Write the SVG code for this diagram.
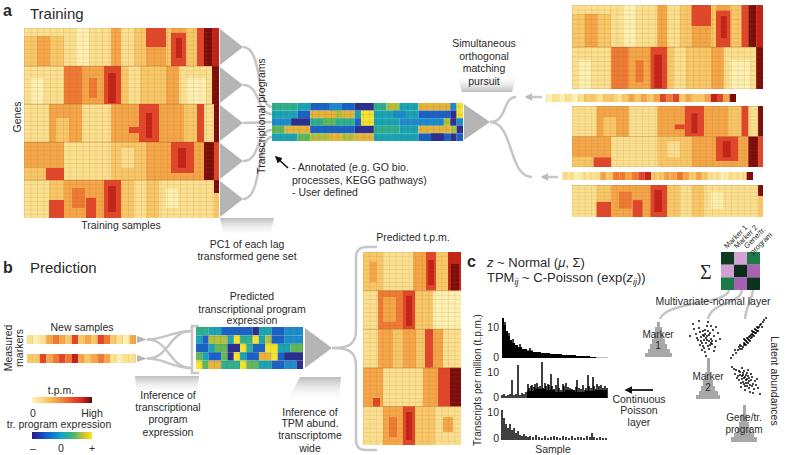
<svg xmlns="http://www.w3.org/2000/svg" width="788" height="455" viewBox="0 0 788 455">
<style>
text{font-family:"Liberation Sans",Arial,sans-serif;fill:#2a2a2a;font-size:10.5px}
.lbl{font-size:15px}
.pl{font-size:16px;font-weight:bold}
.m{text-anchor:middle}
.h0{fill:#fdf1b2}.h1{fill:#fbe090}.h2{fill:#f8c868}.h3{fill:#f4a648}.h4{fill:#ee7a34}.h5{fill:#e2462a}.h6{fill:#c42218}.h7{fill:#7c0c0c}
.p0{fill:#2b2f8e}.p1{fill:#1a62c8}.p2{fill:#1d8ccc}.p3{fill:#1aa4b4}.p4{fill:#2fb08e}.p5{fill:#62b858}.p6{fill:#b4c03a}.p7{fill:#e8b43a}.p8{fill:#f6e22a}
.tri{fill:#b5b5b5}
.con{fill:none;stroke:#c6c6c6;stroke-width:2.5}
.hist{fill:#a8a8a8}
.dots{fill:none;stroke:#000;stroke-width:1.9;stroke-linecap:round}
.bars{fill:none;stroke:#000;stroke-width:1.5}
.ml{font-size:7.5px}
</style>
<defs>
<pattern id="gA" width="6.5" height="4.2222" patternUnits="userSpaceOnUse"><path d="M0 .2H6.5M.2 0V4.2222" stroke="#9a6028" stroke-opacity=".35" stroke-width=".5"/></pattern>
<pattern id="gT" width="6.533" height="4.289" patternUnits="userSpaceOnUse"><path d="M0 .2H6.533M.2 0V4.289" stroke="#9a6028" stroke-opacity=".35" stroke-width=".5"/></pattern>
<pattern id="gP" width="6.3667" height="7.6" patternUnits="userSpaceOnUse"><path d="M0 .2H6.3667M.2 0V7.6" stroke="#404040" stroke-opacity=".3" stroke-width=".5"/></pattern>
<pattern id="gQ" width="6.294" height="8.4" patternUnits="userSpaceOnUse"><path d="M0 .2H6.294M.2 0V8.4" stroke="#404040" stroke-opacity=".3" stroke-width=".5"/></pattern>
<pattern id="gS" width="6.412" height="9" patternUnits="userSpaceOnUse"><path d="M.2 0V9" stroke="#9a6028" stroke-opacity=".35" stroke-width=".5"/></pattern>
<pattern id="gR" width="6.35" height="8" patternUnits="userSpaceOnUse"><path d="M.2 0V8" stroke="#9a6028" stroke-opacity=".35" stroke-width=".5"/></pattern>
<linearGradient id="fd" x1="0" y1="0" x2="0" y2="1"><stop offset="0" stop-color="#bdbdbd"/><stop offset="1" stop-color="#fff" stop-opacity="0"/></linearGradient>
<linearGradient id="fu" x1="0" y1="1" x2="0" y2="0"><stop offset="0" stop-color="#bdbdbd"/><stop offset="1" stop-color="#fff" stop-opacity="0"/></linearGradient>
<linearGradient id="gTPM" x1="0" x2="1"><stop offset="0" stop-color="#fef6bc"/><stop offset=".3" stop-color="#f8c050"/><stop offset=".6" stop-color="#ec6830"/><stop offset=".82" stop-color="#de2820"/><stop offset="1" stop-color="#640808"/></linearGradient>
<linearGradient id="gPR" x1="0" x2="1"><stop offset="0" stop-color="#2a1a8a"/><stop offset=".25" stop-color="#1060d0"/><stop offset=".5" stop-color="#12a8c4"/><stop offset=".7" stop-color="#48b870"/><stop offset=".85" stop-color="#c8c030"/><stop offset="1" stop-color="#f8e818"/></linearGradient>
<marker id="ak" viewBox="0 0 10 10" refX="8" refY="5" markerWidth="4.5" markerHeight="4.5" orient="auto"><path d="M0 0L10 5L0 10Z" fill="#111"/></marker>
<marker id="ag" viewBox="0 0 10 10" refX="8" refY="5" markerWidth="3" markerHeight="3" orient="auto"><path d="M0 0L10 5L0 10Z" fill="#bcbcbc"/></marker>
<clipPath id="c1"><rect x="0" y="0" width="195" height="76"/></clipPath>
<clipPath id="c2"><rect x="0" y="76" width="195" height="76"/></clipPath>
<clipPath id="c3"><rect x="0" y="152" width="195" height="38"/></clipPath>
<g id="hmA">
<rect class="h1" width="195" height="190"/>
<rect class="h2" x="0" y="0" width="40" height="38"/><rect class="h1" x="0" y="0" width="40" height="8"/><rect class="h3" x="13" y="8" width="13" height="30"/>
<rect class="h0" x="52" y="0" width="13" height="38"/><rect class="h3" x="87" y="0" width="10" height="38"/><rect class="h2" x="110" y="0" width="12" height="38"/>
<rect class="h5" x="122" y="0" width="20" height="19"/><rect class="h3" x="122" y="19" width="20" height="19"/><rect class="h2" x="142" y="0" width="5" height="38"/>
<rect class="h3" x="147" y="0" width="15" height="5"/><rect class="h5" x="147" y="5" width="15" height="33"/><rect class="h6" x="152" y="10" width="6" height="20"/>
<rect class="h2" x="162" y="0" width="11" height="38"/><rect class="h5" x="173" y="0" width="7" height="38"/><rect class="h7" x="180" y="0" width="8" height="38"/><rect class="h6" x="188" y="0" width="7" height="38"/>
<rect class="h0" x="6.5" y="50" width="13" height="26"/><rect class="h4" x="40" y="38" width="18" height="38"/><rect class="h3" x="58" y="38" width="22" height="38"/><rect class="h4" x="65" y="50" width="8" height="20"/>
<rect class="h5" x="80" y="38" width="17" height="38"/><rect class="h6" x="84" y="45" width="8" height="30"/><rect class="h2" x="97" y="38" width="25" height="38"/><rect class="h1" x="104" y="38" width="12" height="38"/>
<rect class="h2" x="122" y="38" width="20" height="38"/><rect class="h3" x="142" y="38" width="13" height="38"/><rect class="h0" x="162" y="50" width="20" height="26"/><rect class="h7" x="188" y="38" width="7" height="38"/>
<rect class="h3" x="25" y="76" width="33" height="38"/><rect class="h2" x="32" y="90" width="13" height="24"/><rect class="h3" x="87" y="76" width="28" height="38"/><rect class="h5" x="105" y="99" width="10" height="6"/>
<rect class="h5" x="115" y="76" width="20" height="38"/><rect class="h6" x="122" y="85" width="6" height="25"/><rect class="h3" x="135" y="76" width="25" height="38"/><rect class="h2" x="160" y="76" width="13" height="38"/>
<rect class="h5" x="173" y="76" width="7" height="38"/><rect class="h7" x="190" y="76" width="5" height="38"/>
<rect class="h3" x="0" y="114" width="40" height="26"/><rect class="h2" x="0" y="140" width="22" height="12"/><rect class="h5" x="22" y="140" width="18" height="12"/>
<rect class="h2" x="87" y="114" width="35" height="38"/><rect class="h1" x="97" y="120" width="13" height="20"/><rect class="h3" x="122" y="114" width="25" height="38"/>
<rect class="h5" x="147" y="114" width="23" height="31"/><rect class="h3" x="147" y="145" width="23" height="7"/><rect class="h6" x="154" y="120" width="8" height="20"/>
<rect class="h3" x="170" y="114" width="10" height="38"/><rect class="h7" x="180" y="114" width="10" height="38"/><rect class="h5" x="190" y="114" width="5" height="38"/>
<rect class="h2" x="25" y="152" width="15" height="20"/><rect class="h5" x="25" y="172" width="15" height="18"/><rect class="h3" x="40" y="152" width="40" height="38"/>
<rect class="h4" x="48" y="160" width="13" height="20"/><rect class="h5" x="62" y="170" width="10" height="20"/><rect class="h5" x="80" y="152" width="17" height="38"/><rect class="h6" x="84" y="158" width="8" height="26"/>
<rect class="h2" x="97" y="152" width="38" height="38"/><rect class="h1" x="110" y="152" width="12" height="38"/><rect class="h0" x="142" y="160" width="12" height="20"/>
<rect class="h7" x="190" y="152" width="5" height="13"/><rect class="h2" x="190" y="165" width="5" height="25"/>
<rect width="195" height="190" fill="url(#gA)"/>
<path d="M0 38H195M0 76H195M0 114H195M0 152H195" stroke="#8a5020" stroke-opacity=".45" stroke-width=".6"/>
</g>
</defs>

<rect width="788" height="455" fill="#fff"/>

<!-- soft funnel shapes -->
<g id="funnels">
<path d="M220 218H274L270 237H224Z" fill="url(#fd)"/>
<path d="M457 75H517L512 92H462Z" fill="url(#fu)"/>
<path d="M135 376H199L197 394H137Z" fill="url(#fd)"/>
<path d="M300 377H341L339 402H287Z" fill="url(#fd)"/>
</g>

<!-- connectors -->
<g id="connectors">
<path class="con" d="M243 47C263 47 256 107 272 107"/>
<path class="con" d="M243 85C261 85 256 114 272 114"/>
<path class="con" d="M243 123C256 123 260 122 272 122"/>
<path class="con" d="M243 161C261 161 256 130 272 130"/>
<path class="con" d="M243 199C263 199 256 137 272 137"/>
<path class="con" d="M490 122C508 122 502 97 516 97"/>
<path class="con" d="M490 122C514 122 508 177 532 177"/>
<path class="con" d="M542 97H526" marker-end="url(#ag)" stroke="#bcbcbc"/>
<path class="con" d="M558 177H542" marker-end="url(#ag)" stroke="#bcbcbc"/>
<path d="M288 168L276 157" stroke="#111" stroke-width="1.6" marker-end="url(#ak)"/>
<path class="con" d="M147 339.5C165 339.5 172 331 192 331"/>
<path class="con" d="M147 339.5C170 339.5 168 368 192 368"/>
<path class="con" d="M147 358.5C170 358.5 168 331 192 331"/>
<path class="con" d="M147 358.5C165 358.5 172 368 192 368"/>
<path class="con" d="M199 326H192V373H199"/>
<path class="con" d="M332 348C348 348 356 345 356 330V258Q356 247 366 247H377"/>
<path class="con" d="M332 348C348 348 356 351 356 366V440Q356 450 366 450H377"/>
<path class="con" d="M729 290C727 305 666 301 660 319" stroke-width="3"/>
<path class="con" d="M742 290C740 305 712 301 708 319" stroke-width="3"/>
<path class="con" d="M753 290C752 300 746 306 745 319" stroke-width="3"/>
<path d="M653 390H626" stroke="#111" stroke-width="1.8" marker-end="url(#ak)"/>
</g>

<!-- panel a -->
<g id="panel-a-title"><text class="pl" x="3" y="16">a</text><text class="lbl" x="30" y="19">Training</text></g>
<g id="training-heatmap">
<use href="#hmA" transform="translate(24,28)"/>
<text class="m" transform="translate(21,117) rotate(-90)">Genes</text>
<text class="m" x="121" y="229">Training samples</text>
</g>
<g id="lag-triangles">
<path class="tri" d="M220 29L243 47L220 65ZM220 67L243 85L220 103ZM220 105L243 123L220 141ZM220 143L243 161L220 179ZM220 181L243 199L220 217Z"/>
<text class="m" x="247" y="248">PC1 of each lag</text>
<text class="m" x="247" y="260">transformed gene set</text>
</g>
<g id="transcriptional-programs">
<text class="m" transform="translate(265,116) rotate(-90)">Transcriptional programs</text>
<g transform="translate(272,103) scale(6.3667,7.6)">
<rect class="p4" x="0" y="0" width="4" height="1"/><rect class="p3" x="4" y="0" width="2" height="1"/><rect class="p1" x="6" y="0" width="7" height="1"/><rect class="p2" x="9" y="0" width="2" height="1"/><rect class="p0" x="13" y="0" width="3" height="1"/><rect class="p4" x="16" y="0" width="2" height="1"/><rect class="p6" x="18" y="0" width="2" height="1"/><rect class="p3" x="20" y="0" width="3" height="1"/><rect class="p7" x="23" y="0" width="5" height="1"/><rect class="p2" x="28" y="0" width="1" height="1"/><rect class="p8" x="29" y="0" width="1" height="1"/>
<rect class="p3" x="0" y="1" width="4" height="1"/><rect class="p1" x="4" y="1" width="2" height="1"/><rect class="p7" x="6" y="1" width="7" height="1"/><rect class="p6" x="10" y="1" width="1" height="1"/><rect class="p3" x="13" y="1" width="1" height="1"/><rect class="p8" x="14" y="1" width="2" height="1"/><rect class="p3" x="16" y="1" width="7" height="1"/><rect class="p2" x="19" y="1" width="2" height="1"/><rect class="p1" x="23" y="1" width="5" height="1"/><rect class="p0" x="28" y="1" width="1" height="1"/><rect class="p8" x="29" y="1" width="1" height="1"/>
<rect class="p2" x="0" y="2" width="3" height="1"/><rect class="p0" x="3" y="2" width="3" height="1"/><rect class="p4" x="6" y="2" width="7" height="1"/><rect class="p5" x="8" y="2" width="2" height="1"/><rect class="p1" x="13" y="2" width="1" height="1"/><rect class="p8" x="14" y="2" width="2" height="1"/><rect class="p3" x="16" y="2" width="4" height="1"/><rect class="p2" x="20" y="2" width="7" height="1"/><rect class="p6" x="27" y="2" width="1" height="1"/><rect class="p0" x="28" y="2" width="1" height="1"/><rect class="p2" x="29" y="2" width="1" height="1"/>
<rect class="p5" x="0" y="3" width="2" height="1"/><rect class="p7" x="2" y="3" width="4" height="1"/><rect class="p1" x="6" y="3" width="7" height="1"/><rect class="p0" x="13" y="3" width="3" height="1"/><rect class="p4" x="16" y="3" width="4" height="1"/><rect class="p3" x="20" y="3" width="3" height="1"/><rect class="p7" x="23" y="3" width="5" height="1"/><rect class="p6" x="28" y="3" width="1" height="1"/><rect class="p0" x="29" y="3" width="1" height="1"/>
<rect class="p3" x="0" y="4" width="4" height="1"/><rect class="p5" x="4" y="4" width="2" height="1"/><rect class="p6" x="6" y="4" width="7" height="1"/><rect class="p7" x="9" y="4" width="2" height="1"/><rect class="p7" x="13" y="4" width="3" height="1"/><rect class="p3" x="16" y="4" width="7" height="1"/><rect class="p1" x="23" y="4" width="5" height="1"/><rect class="p0" x="25" y="4" width="2" height="1"/><rect class="p0" x="28" y="4" width="1" height="1"/><rect class="p1" x="29" y="4" width="1" height="1"/>
</g>
<rect x="272" y="103" width="191" height="38" fill="url(#gP)"/>
<path class="tri" d="M464 104L490 122L464 140Z"/>
</g>
<g id="annotation">
<text x="292" y="171">- Annotated (e.g. GO bio.</text>
<text x="292" y="184">processes, KEGG pathways)</text>
<text x="292" y="196">- User defined</text>
</g>
<g id="omp-label">
<text class="m" x="484" y="47">Simultaneous</text>
<text class="m" x="484" y="60">orthogonal</text>
<text class="m" x="484" y="72">matching</text>
<text class="m" x="484" y="85">pursuit</text>
</g>
<g id="reconstructed-heatmap">
<g transform="translate(572,5) scale(.9795,1.105)"><use href="#hmA" clip-path="url(#c1)"/></g>
<g transform="translate(572,106) scale(.9795,.8026) translate(0,-76)"><use href="#hmA" clip-path="url(#c2)"/></g>
<g transform="translate(572,185) scale(.9795,.842) translate(0,-152)"><use href="#hmA" clip-path="url(#c3)"/></g>
<g transform="translate(546,94) scale(6.3333,8)">
<rect class="h0" x="0" width="1" height="1"/><rect class="h1" x="1" width="1" height="1"/><rect class="h0" x="2" width="1" height="1"/><rect class="h1" x="3" width="1" height="1"/><rect class="h0" x="4" width="1" height="1"/><rect class="h1" x="5" width="1" height="1"/>
<rect class="h2" x="6" width="1" height="1"/><rect class="h2" x="7" width="1" height="1"/><rect class="h1" x="8" width="1" height="1"/><rect class="h2" x="9" width="1" height="1"/><rect class="h2" x="10" width="1" height="1"/><rect class="h1" x="11" width="1" height="1"/><rect class="h2" x="12" width="1" height="1"/>
<rect class="h3" x="13" width="1" height="1"/><rect class="h2" x="14" width="1" height="1"/><rect class="h3" x="15" width="1" height="1"/><rect class="h2" x="16" width="1" height="1"/><rect class="h3" x="17" width="1" height="1"/>
<rect class="h5" x="18" width="1" height="1"/><rect class="h4" x="19" width="1" height="1"/><rect class="h5" x="20" width="1" height="1"/>
<rect class="h2" x="21" width="1" height="1"/><rect class="h3" x="22" width="1" height="1"/><rect class="h2" x="23" width="1" height="1"/><rect class="h2" x="24" width="1" height="1"/><rect class="h3" x="25" width="1" height="1"/>
<rect class="h6" x="26" width="1" height="1"/><rect class="h5" x="27" width="1" height="1"/><rect class="h3" x="28" width="1" height="1"/><rect class="h7" x="29" width="1" height="1"/>
</g>
<rect x="546" y="94" width="190" height="8" fill="url(#gR)"/>
<g transform="translate(562,172) scale(6.3667,8)">
<rect class="h1" x="0" width="1" height="1"/><rect class="h1" x="1" width="1" height="1"/><rect class="h0" x="2" width="1" height="1"/><rect class="h1" x="3" width="1" height="1"/><rect class="h1" x="4" width="1" height="1"/><rect class="h1" x="5" width="1" height="1"/>
<rect class="h3" x="6" width="1" height="1"/><rect class="h2" x="7" width="1" height="1"/><rect class="h4" x="8" width="1" height="1"/><rect class="h4" x="9" width="1" height="1"/><rect class="h3" x="10" width="1" height="1"/>
<rect class="h4" x="11" width="1" height="1"/><rect class="h5" x="12" width="1" height="1"/><rect class="h6" x="13" width="1" height="1"/><rect class="h2" x="14" width="1" height="1"/><rect class="h2" x="15" width="1" height="1"/><rect class="h3" x="16" width="1" height="1"/>
<rect class="h3" x="17" width="1" height="1"/><rect class="h4" x="18" width="1" height="1"/><rect class="h3" x="19" width="1" height="1"/><rect class="h2" x="20" width="1" height="1"/><rect class="h3" x="21" width="1" height="1"/><rect class="h2" x="22" width="1" height="1"/>
<rect class="h1" x="23" width="1" height="1"/><rect class="h1" x="24" width="1" height="1"/><rect class="h0" x="25" width="1" height="1"/><rect class="h1" x="26" width="1" height="1"/><rect class="h1" x="27" width="1" height="1"/><rect class="h1" x="28" width="1" height="1"/><rect class="h7" x="29" width="1" height="1"/>
</g>
<rect x="562" y="172" width="191" height="8" fill="url(#gR)"/>
</g>

<!-- panel b -->
<g id="panel-b-title"><text class="pl" x="3" y="273">b</text><text class="lbl" x="30" y="273">Prediction</text></g>
<g id="new-samples">
<text class="m" transform="translate(12,348) rotate(-90)">Measured</text>
<text class="m" transform="translate(23,348) rotate(-90)">markers</text>
<text class="m" x="82" y="331">New samples</text>
<g transform="translate(27,335) scale(6.412,9)">
<rect class="h1" x="0" width="1" height="1"/><rect class="h0" x="1" width="1" height="1"/><rect class="h1" x="2" width="1" height="1"/><rect class="h3" x="3" width="1" height="1"/><rect class="h4" x="4" width="1" height="1"/><rect class="h3" x="5" width="1" height="1"/><rect class="h2" x="6" width="1" height="1"/><rect class="h5" x="7" width="1" height="1"/><rect class="h2" x="8" width="1" height="1"/><rect class="h3" x="9" width="1" height="1"/><rect class="h2" x="10" width="1" height="1"/><rect class="h5" x="11" width="1" height="1"/><rect class="h4" x="12" width="1" height="1"/><rect class="h2" x="13" width="1" height="1"/><rect class="h1" x="14" width="1" height="1"/><rect class="h0" x="15" width="1" height="1"/><rect class="h3" x="16" width="1" height="1"/>
</g>
<g transform="translate(27,354) scale(6.412,9)">
<rect class="h2" x="0" width="1" height="1"/><rect class="h2" x="1" width="1" height="1"/><rect class="h5" x="2" width="1" height="1"/><rect class="h3" x="3" width="1" height="1"/><rect class="h4" x="4" width="1" height="1"/><rect class="h5" x="5" width="1" height="1"/><rect class="h4" x="6" width="1" height="1"/><rect class="h6" x="7" width="1" height="1"/><rect class="h3" x="8" width="1" height="1"/><rect class="h2" x="9" width="1" height="1"/><rect class="h3" x="10" width="1" height="1"/><rect class="h4" x="11" width="1" height="1"/><rect class="h3" x="12" width="1" height="1"/><rect class="h1" x="13" width="1" height="1"/><rect class="h0" x="14" width="1" height="1"/><rect class="h1" x="15" width="1" height="1"/><rect class="h1" x="16" width="1" height="1"/>
</g>
<rect x="27" y="335" width="109" height="9" fill="url(#gS)"/>
<rect x="27" y="354" width="109" height="9" fill="url(#gS)"/>
<path class="tri" d="M137 336L147 339.5L137 343ZM137 355L147 358.5L137 362Z"/>
</g>
<g id="legend">
<text class="m" x="61" y="394">t.p.m.</text>
<rect x="32" y="397" width="60" height="6" fill="url(#gTPM)"/>
<text class="m" x="33" y="417">0</text><text class="m" x="92" y="417">High</text>
<text class="m" x="59" y="428">tr. program expression</text>
<rect x="32" y="432" width="60" height="7" fill="url(#gPR)"/>
<text class="m" x="33" y="452">–</text><text class="m" x="61" y="452">0</text><text class="m" x="92" y="452">+</text>
</g>
<g id="inference-programs">
<text class="m" x="168" y="399">Inference of</text>
<text class="m" x="168" y="411">transcriptional</text>
<text class="m" x="168" y="423">program</text>
<text class="m" x="168" y="436">expression</text>
</g>
<g id="predicted-programs">
<text class="m" x="252" y="300">Predicted</text>
<text class="m" x="252" y="313">transcriptional program</text>
<text class="m" x="252" y="324">expression</text>
<g transform="translate(196,327) scale(6.294,8.4)">
<rect class="p4" x="0" y="0" width="2" height="1"/><rect class="p3" x="2" y="0" width="2" height="1"/><rect class="p1" x="4" y="0" width="5" height="1"/><rect class="p0" x="9" y="0" width="1" height="1"/><rect class="p3" x="10" y="0" width="2" height="1"/><rect class="p1" x="12" y="0" width="2" height="1"/><rect class="p2" x="14" y="0" width="3" height="1"/>
<rect class="p3" x="0" y="1" width="1" height="1"/><rect class="p1" x="1" y="1" width="1" height="1"/><rect class="p6" x="2" y="1" width="3" height="1"/><rect class="p3" x="5" y="1" width="1" height="1"/><rect class="p8" x="6" y="1" width="1" height="1"/><rect class="p4" x="7" y="1" width="2" height="1"/><rect class="p8" x="9" y="1" width="1" height="1"/><rect class="p3" x="10" y="1" width="1" height="1"/><rect class="p6" x="11" y="1" width="1" height="1"/><rect class="p1" x="12" y="1" width="2" height="1"/><rect class="p2" x="14" y="1" width="3" height="1"/>
<rect class="p1" x="0" y="2" width="2" height="1"/><rect class="p3" x="2" y="2" width="1" height="1"/><rect class="p5" x="3" y="2" width="2" height="1"/><rect class="p0" x="5" y="2" width="2" height="1"/><rect class="p8" x="7" y="2" width="1" height="1"/><rect class="p4" x="8" y="2" width="1" height="1"/><rect class="p1" x="9" y="2" width="2" height="1"/><rect class="p8" x="11" y="2" width="2" height="1"/><rect class="p3" x="13" y="2" width="2" height="1"/><rect class="p5" x="15" y="2" width="2" height="1"/>
<rect class="p5" x="0" y="3" width="1" height="1"/><rect class="p3" x="1" y="3" width="1" height="1"/><rect class="p1" x="2" y="3" width="2" height="1"/><rect class="p5" x="4" y="3" width="1" height="1"/><rect class="p0" x="5" y="3" width="1" height="1"/><rect class="p8" x="6" y="3" width="1" height="1"/><rect class="p3" x="7" y="3" width="1" height="1"/><rect class="p1" x="8" y="3" width="2" height="1"/><rect class="p7" x="10" y="3" width="2" height="1"/><rect class="p8" x="12" y="3" width="1" height="1"/><rect class="p1" x="13" y="3" width="1" height="1"/><rect class="p0" x="14" y="3" width="3" height="1"/>
<rect class="p8" x="0" y="4" width="1" height="1"/><rect class="p5" x="1" y="4" width="1" height="1"/><rect class="p7" x="2" y="4" width="2" height="1"/><rect class="p4" x="4" y="4" width="3" height="1"/><rect class="p8" x="7" y="4" width="1" height="1"/><rect class="p5" x="8" y="4" width="2" height="1"/><rect class="p3" x="10" y="4" width="2" height="1"/><rect class="p1" x="12" y="4" width="2" height="1"/><rect class="p2" x="14" y="4" width="2" height="1"/><rect class="p0" x="16" y="4" width="1" height="1"/>
</g>
<rect x="196" y="327" width="107" height="42" fill="url(#gQ)"/>
<path class="tri" d="M305 328L332 348L305 368Z"/>
</g>
<g id="inference-tpm">
<text class="m" x="310" y="416">Inference of</text>
<text class="m" x="310" y="427">TPM abund.</text>
<text class="m" x="310" y="439">transcriptome</text>
<text class="m" x="310" y="452">wide</text>
</g>
<g id="predicted-tpm">
<text class="m" x="413" y="241">Predicted t.p.m.</text>
<g transform="translate(363,252)">
<rect class="h1" width="98" height="193"/>
<rect class="h2" x="0" y="0" width="20" height="38.6"/><rect class="h3" x="6.5" y="10" width="7" height="20"/><rect class="h3" x="50" y="0" width="13" height="38.6"/><rect class="h5" x="63" y="0" width="10" height="38.6"/><rect class="h6" x="65" y="8" width="6" height="25"/><rect class="h2" x="73" y="0" width="12" height="38.6"/><rect class="h6" x="85" y="0" width="13" height="38.6"/><rect class="h7" x="88" y="12" width="8" height="26.6"/>
<rect class="h4" x="15" y="38.6" width="25" height="38.6"/><rect class="h3" x="20" y="45" width="13" height="25"/><rect class="h5" x="40" y="38.6" width="12" height="38.6"/><rect class="h6" x="43" y="44" width="6" height="30"/><rect class="h2" x="52" y="38.6" width="18" height="38.6"/><rect class="h0" x="70" y="38.6" width="28" height="38.6"/>
<rect class="h3" x="15" y="77.2" width="15" height="38.6"/><rect class="h2" x="30" y="77.2" width="10" height="38.6"/><rect class="h3" x="40" y="77.2" width="13" height="38.6"/><rect class="h2" x="53" y="77.2" width="9" height="38.6"/><rect class="h5" x="62" y="77.2" width="8" height="38.6"/><rect class="h3" x="70" y="77.2" width="10" height="38.6"/>
<rect class="h3" x="0" y="115.8" width="20" height="38.6"/><rect class="h3" x="60" y="115.8" width="15" height="38.6"/><rect class="h5" x="75" y="115.8" width="12" height="38.6"/><rect class="h7" x="87" y="115.8" width="11" height="38.6"/><rect class="h5" x="10" y="146" width="7" height="8.4"/>
<rect class="h3" x="20" y="154.4" width="20" height="38.6"/><rect class="h4" x="26" y="165" width="8" height="20"/><rect class="h5" x="40" y="154.4" width="12" height="38.6"/><rect class="h6" x="43" y="160" width="6" height="28"/><rect class="h2" x="52" y="154.4" width="20" height="38.6"/><rect class="h3" x="80" y="165" width="10" height="15"/>
<rect width="98" height="193" fill="url(#gT)"/>
<path d="M0 38.6H98M0 77.2H98M0 115.8H98M0 154.4H98" stroke="#8a5020" stroke-opacity=".45" stroke-width=".6"/>
</g>
</g>

<!-- panel c -->
<g id="panel-c-title">
<text class="pl" x="467" y="267">c</text>
<text x="487" y="267" style="font-size:13px"><tspan font-style="italic">z</tspan> ~ Normal (<tspan font-style="italic">μ</tspan>, Σ)</text>
<text x="487" y="282" style="font-size:13px">TPM<tspan font-style="italic" font-size="9" dy="3">ij</tspan><tspan dy="-3"> ~ C-Poisson (exp(</tspan><tspan font-style="italic">z</tspan><tspan font-style="italic" font-size="9" dy="3">ij</tspan><tspan dy="-3">))</tspan></text>
</g>
<g id="covariance">
<text x="700" y="279" style="font-family:'Liberation Serif',serif;font-size:20px">Σ</text>
<rect x="721" y="252" width="13" height="12.7" fill="#0d3a22"/><rect x="734" y="252" width="13" height="12.7" fill="#d4a2d4"/><rect x="747" y="252" width="13" height="12.7" fill="#1d7a48"/>
<rect x="721" y="264.7" width="13" height="12.7" fill="#d2a0d2"/><rect x="734" y="264.7" width="13" height="12.7" fill="#0a2c1a"/><rect x="747" y="264.7" width="13" height="12.7" fill="#a862b0"/>
<rect x="721" y="277.4" width="13" height="12.6" fill="#1d7a48"/><rect x="734" y="277.4" width="13" height="12.6" fill="#a860b2"/><rect x="747" y="277.4" width="13" height="12.6" fill="#0d3320"/>
<text class="ml" transform="translate(727,249) rotate(-45)">Marker 1</text>
<text class="ml" transform="translate(737,249) rotate(-45)">Marker 2</text>
<text class="ml" transform="translate(747,249) rotate(-45)">Gene/tr.</text>
<text class="ml" transform="translate(753,255) rotate(-45)">program</text>
<text class="m" x="713" y="305">Multivariate-normal layer</text>
</g>
<g id="latent">
<path class="hist" d="M657 322H660V327H662V333H663V339H665V344H667V349H670V353H672V357H645V353H648V349H650V344H652V339H654V333H655V327H657Z"/>
<text class="m" x="658" y="338" style="font-size:10px">Marker</text><text class="m" x="658" y="349" style="font-size:10px">1</text>
<path class="hist" d="M707 358H710V372H711V380H713V386H715V391H718V395H720V399H696V395H699V391H701V386H703V380H705V372H707Z"/>
<text class="m" x="708" y="380" style="font-size:10px">Marker</text><text class="m" x="708" y="391" style="font-size:10px">2</text>
<path class="hist" d="M743 405H746V414H747V422H749V428H751V433H754V437H757V442H731V437H734V433H737V428H739V422H741V414H743Z"/>
<text class="m" x="744" y="421" style="font-size:10px">Gene/tr.</text><text class="m" x="744" y="433" style="font-size:10px">program</text>
<path class="dots" d="M706 338h.01M703 335h.01M709 341h.01M700 332h.01M712 344h.01M705 330h.01M708 346h.01M698 340h.01M714 336h.01M702 343h.01M710 333h.01M704 348h.01M707 326h.01M699 328h.01M716 341h.01M701 337h.01M711 339h.01M706 343h.01M703 331h.01M709 335h.01M696 334h.01M713 330h.01M705 352h.01M708 322h.01M700 345h.01M715 347h.01M694 329h.01M718 333h.01M702 350h.01M711 326h.01M707 340h.01M704 336h.01M710 345h.01M697 338h.01M712 341h.01M705 334h.01M708 331h.01M701 341h.01M714 351h.01M693 324h.01M720 339h.01M706 356h.01M699 321h.01M716 327h.01M703 346h.01M709 349h.01M690 336h.01M704 340h.01M711 343h.01M707 336h.01"/>
<path class="dots" d="M736 353h.01M738 350h.01M740 349h.01M741 346h.01M743 347h.01M744 343h.01M745 344h.01M746 341h.01M747 342h.01M748 339h.01M749 340h.01M750 336h.01M751 338h.01M752 334h.01M753 335h.01M754 332h.01M755 333h.01M756 330h.01M757 331h.01M758 328h.01M759 327h.01M760 325h.01M761 324h.01M763 322h.01M742 349h.01M745 340h.01M748 343h.01M750 341h.01M752 337h.01M754 336h.01M756 333h.01M758 331h.01M744 345h.01M747 338h.01M751 335h.01M753 332h.01M755 329h.01M739 347h.01M749 337h.01M757 327h.01M733 355h.01M764 320h.01M740 345h.01M746 345h.01M752 331h.01M762 327h.01M735 350h.01M766 318h.01M731 358h.01M744 339h.01"/>
<path class="dots" d="M740 372h.01M743 375h.01M745 377h.01M747 379h.01M749 381h.01M742 379h.01M746 383h.01M750 385h.01M744 371h.01M738 376h.01M748 376h.01M751 380h.01M753 384h.01M741 383h.01M745 386h.01M747 373h.01M736 370h.01M739 380h.01M743 382h.01M752 377h.01M754 389h.01M749 388h.01M744 378h.01M746 375h.01M740 375h.01M748 383h.01M742 368h.01M756 385h.01M750 392h.01M734 369h.01M758 388h.01M745 390h.01M737 378h.01M751 374h.01M755 381h.01M741 387h.01M747 386h.01M753 393h.01M732 367h.01M760 394h.01M739 371h.01M744 384h.01M748 370h.01M743 373h.01M746 380h.01M752 386h.01M757 379h.01M735 374h.01M749 378h.01M742 376h.01"/>
<text class="m" transform="translate(771,381) rotate(90)">Latent abundances</text>
</g>
<g id="poisson-label">
<text class="m" x="639" y="403">Continuous</text>
<text class="m" x="639" y="414">Poisson</text>
<text class="m" x="639" y="426">layer</text>
</g>
<g id="tpm-charts">
<text class="m" transform="translate(481,380) rotate(-90)" style="font-size:10px">Transcripts per million (t.p.m.)</text>
<g style="font-size:10px;text-anchor:end">
<text x="499" y="331">10</text><text x="499" y="361">0</text>
<text x="499" y="376">10</text><text x="499" y="401">0</text>
<text x="499" y="416">10</text><text x="499" y="442">0</text>
</g>
<path fill="#000" d="M502 358V318H504V325H506V331H508V336H510V340H512V343H515V345H518V347H522V349H527V350.5H533V352H541V353H550V354H562V355H576V356H590V357H598V358Z"/>
<path class="bars" d="M505 358V322M509 358V333M513 358V339M520 358V344M530 358V348"/>
<path d="M596 357.6H608" stroke="#bbb" stroke-width="1"/>
<path fill="#000" d="M527 398V391H535V389H545V390H555V392H565V390H575V392H585V391H595V390H607V398Z"/>
<path class="bars" d="M502 398V395M504 398V394M506 398V396M508 398V395M510 398V394M512 398V380M514 398V395M516 398V394M518 398V365M520 398V395M522 398V393M524 398V394M526 398V392M528 398V384M529 398V388M531 398V386M532 398V385M534 398V387M535 398V384M537 398V383M538 398V387M540 398V386M542 398V362M543 398V388M545 398V383M546 398V386M548 398V384M549 398V385M551 398V374M552 398V386M554 398V389M556 398V385M558 398V378M559 398V388M561 398V390M563 398V384M564 398V386M566 398V383M568 398V387M570 398V388M572 398V389M574 398V390M576 398V387M577 398V380M579 398V388M581 398V389M583 398V385M585 398V390M586 398V388M588 398V375M589 398V386M591 398V388M593 398V377M594 398V386M596 398V389M597 398V384M599 398V386M601 398V385M603 398V388M605 398V386M607 398V388"/>
<path class="bars" d="M502 440V410M504 440V418M506 440V424M508 440V428M510 440V424M512 440V430M514 440V428M516 440V433M518 440V431M520 440V435M522 440V436M524 440V434M526 440V436M528 440V437M530 440V436M533 440V437M536 440V435M539 440V437M542 440V438M545 440V436M548 440V438M551 440V437M554 440V436M557 440V437M560 440V438M563 440V436M566 440V437M569 440V438M572 440V436M575 440V438M578 440V437M581 440V437M584 440V438M587 440V436M590 440V437M592 440V433M594 440V437M597 440V438M600 440V437M603 440V438M606 440V438"/>
<text class="m" x="553" y="453">Sample</text>
</g>
</svg>
